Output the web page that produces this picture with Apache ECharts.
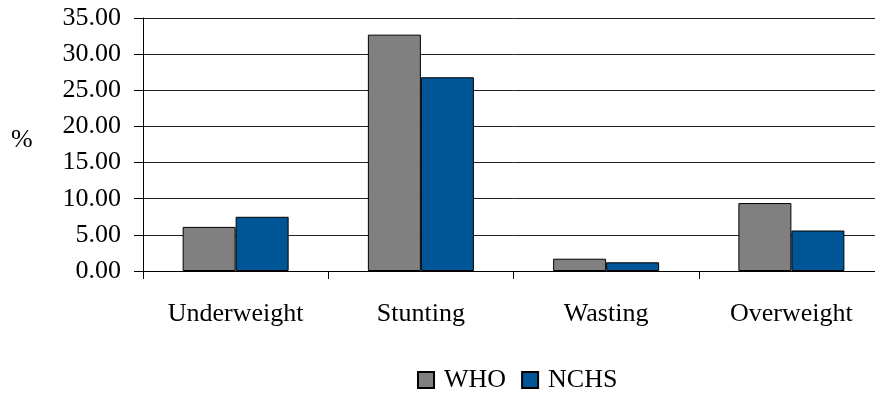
<!DOCTYPE html>
<html>
<head>
<meta charset="utf-8">
<script src="https://cdn.jsdelivr.net/npm/echarts@6/dist/echarts.min.js"></script>
<style>html,body{margin:0;padding:0;background:#fff;overflow:hidden;width:875px;height:393px}#c{width:884px;height:393px}</style>
</head>
<body>
<div id="c"></div>
<script>
const categories = ['Underweight', 'Stunting', 'Wasting', 'Overweight'];
const whoValues = [6.1, 32.7, 1.7, 9.4];
const nchsValues = [7.5, 26.8, 1.2, 5.6];
const yTicks = [0, 5, 10, 15, 20, 25, 30, 35];

const font = "'Liberation Serif', 'Times New Roman', serif";
const chart = echarts.init(document.getElementById('c'));
chart.setOption({
  animation: false,
  backgroundColor: '#fff',
  textStyle: { fontFamily: font },
  grid: { left: 143, top: 18, width: 741, height: 253, containLabel: false },
  legend: {
    data: ['WHO', 'NCHS'],
    left: 412, top: 362,
    itemWidth: 16, itemHeight: 16, itemGap: 15,
    icon: 'rect',
    textStyle: { fontFamily: font, fontSize: 26, color: '#000', padding: [0, 0, 0, 5] }
  },
  graphic: [{
    type: 'text', left: 11, top: 127,
    style: { text: '%', font: "26px " + font, fill: '#000' }
  }],
  xAxis: {
    type: 'category', data: categories,
    axisLine: { lineStyle: { color: '#000', width: 1 } },
    axisTick: { show: true, length: 8, lineStyle: { color: '#000' } },
    axisLabel: { color: '#000', fontSize: 26, fontFamily: font, margin: 30 }
  },
  yAxis: {
    type: 'value', min: yTicks[0], max: yTicks[yTicks.length - 1], interval: 5,
    axisLine: { show: true, lineStyle: { color: '#000' } },
    axisTick: { show: true, length: 9, lineStyle: { color: '#000' } },
    axisLabel: { color: '#000', fontSize: 26, fontFamily: font, margin: 22,
      formatter: v => v.toFixed(2) },
    splitLine: { lineStyle: { color: '#222', width: 1 } }
  },
  series: [
    { name: 'WHO', type: 'bar', data: whoValues, barWidth: 53, barGap: '0%',
      itemStyle: { color: '#808080', borderColor: '#000', borderWidth: 1 } },
    { name: 'NCHS', type: 'bar', data: nchsValues, barWidth: 53,
      itemStyle: { color: '#005596', borderColor: '#000', borderWidth: 1 } }
  ]
});
</script>
</body>
</html>
